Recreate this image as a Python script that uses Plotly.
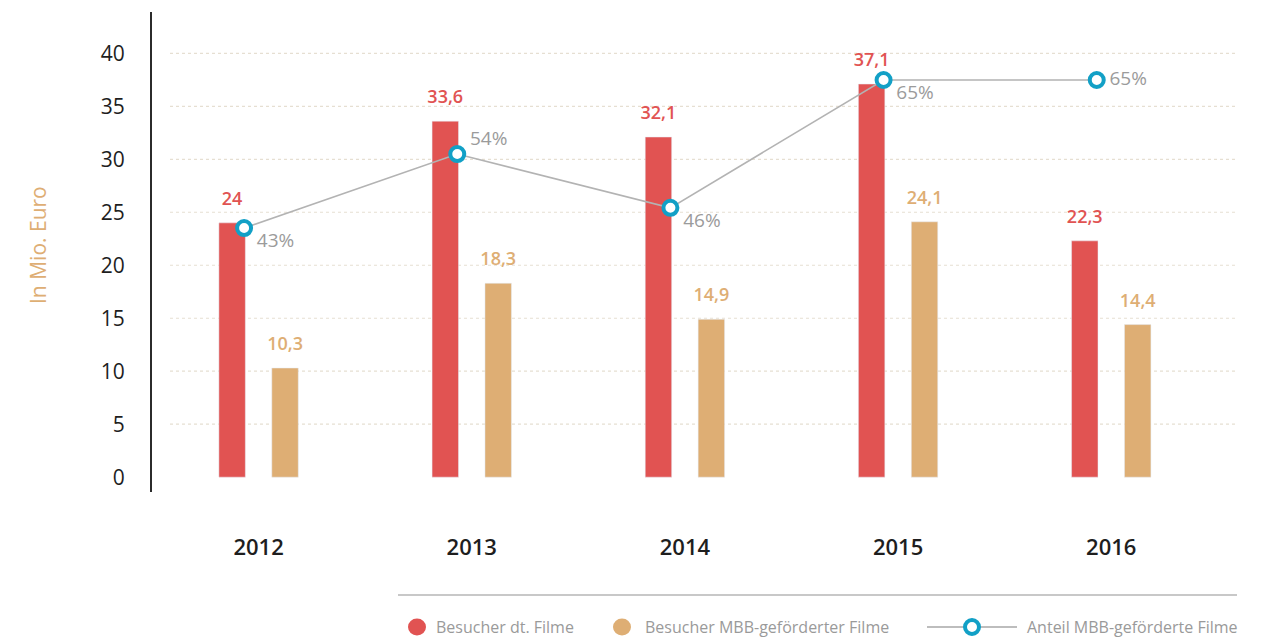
import plotly.graph_objects as go

years = ["2012", "2013", "2014", "2015", "2016"]
besucher_dt = [24, 33.6, 32.1, 37.1, 22.3]
besucher_mbb = [10.3, 18.3, 14.9, 24.1, 14.4]
anteil_mbb = [43, 54, 46, 65, 65]
y_ticks = [0, 5, 10, 15, 20, 25, 30, 35, 40]
legend_names = ["Besucher dt. Filme", "Besucher MBB-geförderter Filme", "Anteil MBB-geförderte Filme"]

RED = "#E15352"
TAN = "#DEAE74"
BLUE = "#12A0C6"
GRAY_TXT = "#9B9B9B"
FONT = "Open Sans"

# page layout (page pixels); the figure div sits 8px in from the page edge
OFF = 8
PL, PR, PT, PB = 152, 1237, 12, 492
FIG_W, FIG_H = 1246, 630
X_RANGE = [-0.5, 4.59]
BAR_SHIFT = 0.1243    # half the distance between the two bars of a year, in category units
LINE_SHIFT = 0.068    # share markers sit on the right edge of the red bar
LABEL_NUDGE = 0.0375  # share labels sit a little further right


def px_x(X):
    return (X - PL) / (PR - PL)


def px_y(Y):
    return (PB - Y) / (PB - PT)


def de(v):
    return f"{v:g}".replace(".", ",")


def shifted(s):
    return [X_RANGE[0] + s, X_RANGE[1] + s]


fig = go.Figure()
fig.add_trace(go.Bar(x=years, y=besucher_dt, name=legend_names[0], marker_color=RED,
                     showlegend=False, hoverinfo="skip"))
fig.add_trace(go.Bar(x=years, y=besucher_mbb, name=legend_names[1], marker_color=TAN,
                     showlegend=False, hoverinfo="skip"))

# value labels above the bars
for vals, col, ax in [(besucher_dt, RED, "x3"), (besucher_mbb, TAN, "x4")]:
    fig.add_trace(go.Scatter(
        x=years, y=vals, xaxis=ax, yaxis="y", mode="markers+text",
        marker=dict(size=20, opacity=0), text=[de(v) for v in vals],
        textposition="top center", cliponaxis=False, showlegend=False, hoverinfo="skip",
        textfont=dict(color=col, size=18, family=FONT, weight=600)))

fig.add_trace(go.Scatter(
    x=years, y=anteil_mbb, xaxis="x2", yaxis="y2", name=legend_names[2],
    mode="lines+markers", showlegend=False, hoverinfo="skip",
    line=dict(color="#B3B3B3", width=1.6),
    marker=dict(symbol="circle", size=14, color="white", line=dict(color=BLUE, width=4)),
    cliponaxis=False))
fig.add_trace(go.Scatter(
    x=years, y=anteil_mbb, xaxis="x5", yaxis="y2", mode="markers+text",
    marker=dict(size=6, opacity=0), showlegend=False, hoverinfo="skip",
    text=[f"{v}%" for v in anteil_mbb],
    textposition=["bottom right", "top right", "bottom right", "bottom right", "middle right"],
    textfont=dict(color=GRAY_TXT, size=19, family=FONT, weight=500),
    cliponaxis=False))

shapes = []
for t in y_ticks[1:]:
    shapes.append(dict(type="line", xref="paper", yref="y", x0=px_x(170), x1=1, y0=t, y1=t,
                       line=dict(color="#E6DFD2", width=1.2, dash="dot"), layer="below"))
# separator above legend
shapes.append(dict(type="line", xref="paper", yref="paper", x0=px_x(398), x1=1,
                   y0=px_y(595), y1=px_y(595), line=dict(color="#C8C8C8", width=2)))

# hand-drawn legend (circles for bars, line + ring for the share)
LEG_Y = px_y(627)
for cx, col in [(417, RED), (622, TAN)]:
    shapes.append(dict(type="circle", xref="paper", yref="paper",
                       xsizemode="pixel", ysizemode="pixel",
                       xanchor=px_x(cx), yanchor=LEG_Y, x0=-9, x1=9, y0=-8.5, y1=8.5,
                       fillcolor=col, line=dict(width=0)))
shapes.append(dict(type="line", xref="paper", yref="paper",
                   x0=px_x(927), x1=px_x(1017), y0=LEG_Y, y1=LEG_Y,
                   line=dict(color="#BDBDBD", width=2)))
shapes.append(dict(type="circle", xref="paper", yref="paper",
                   xsizemode="pixel", ysizemode="pixel",
                   xanchor=px_x(972), yanchor=LEG_Y, x0=-7, x1=7, y0=-7, y1=7,
                   fillcolor="white", line=dict(color=BLUE, width=4)))

annotations = [dict(text="In Mio. Euro", xref="paper", yref="paper",
                    x=px_x(38), y=px_y(245), textangle=-90,
                    showarrow=False, xanchor="center", yanchor="middle",
                    font=dict(size=21, color=TAN, family=FONT))]
for tx, name in zip([434, 643, 1025], legend_names):
    annotations.append(dict(text=name, xref="paper", yref="paper", x=px_x(tx), y=LEG_Y,
                            showarrow=False, xanchor="left", yanchor="middle",
                            font=dict(size=16, color="#9A9A9A", family=FONT)))

cat_axis = dict(type="category", categoryorder="array", categoryarray=years,
                overlaying="x", visible=False)

fig.update_layout(
    width=FIG_W, height=FIG_H, autosize=False,
    margin=dict(l=PL - OFF, r=FIG_W - (PR - OFF), t=PT - OFF, b=FIG_H - (PB - OFF)),
    paper_bgcolor="white", plot_bgcolor="white",
    barmode="group", bargap=0.5035, bargroupgap=0.5,
    font=dict(family=FONT, color="#222222"),
    xaxis=dict(type="category", categoryorder="array", categoryarray=years,
               range=X_RANGE, showgrid=False, zeroline=False, showline=False,
               ticks="", ticklabelstandoff=40,
               tickfont=dict(size=22, color="#1E1E1E", family=FONT, weight=600)),
    xaxis2=dict(cat_axis, anchor="y2", range=shifted(LINE_SHIFT)),
    xaxis3=dict(cat_axis, anchor="y", range=shifted(BAR_SHIFT)),
    xaxis4=dict(cat_axis, anchor="y", range=shifted(-BAR_SHIFT)),
    xaxis5=dict(cat_axis, anchor="y2", range=shifted(LINE_SHIFT - LABEL_NUDGE)),
    yaxis=dict(range=[-1.4, 43.9], tickvals=y_ticks, showgrid=False, zeroline=False,
               showline=True, linecolor="#2B2B2B", linewidth=2, ticks="",
               ticklabelstandoff=21,
               tickfont=dict(size=21, color="#1E1E1E", family=FONT, weight=500)),
    yaxis2=dict(range=[3.76, 75.11], overlaying="y", anchor="x2", visible=False),
    shapes=shapes,
    annotations=annotations,
    showlegend=False,
)

fig.write_html("out.html")
